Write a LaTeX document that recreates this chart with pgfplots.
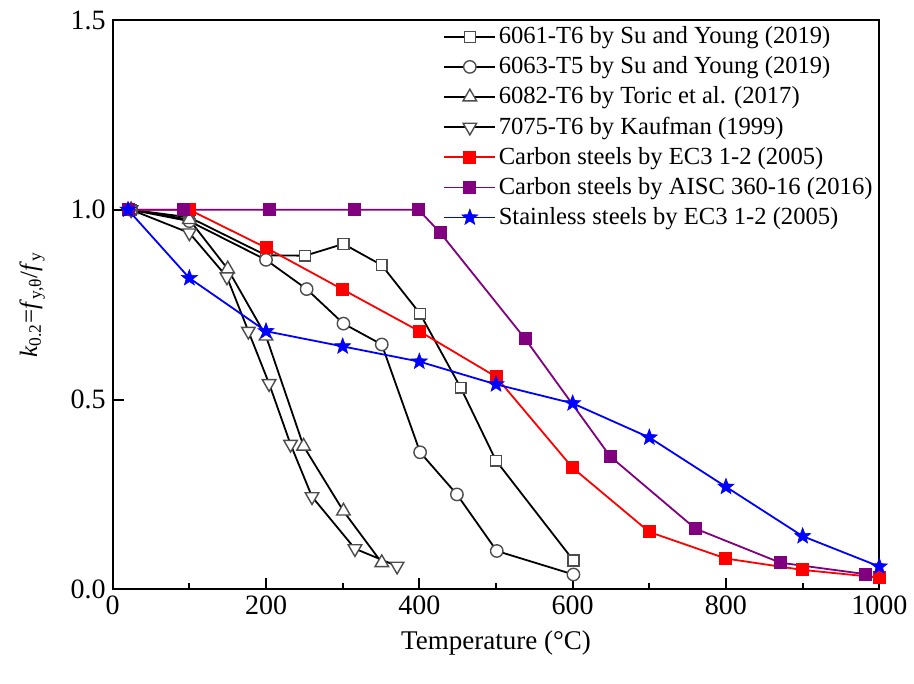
\documentclass[border=0pt]{standalone}
\usepackage{pgfplots}
\pgfplotsset{compat=1.18}
\usepackage{fontspec}
\setmainfont{Liberation Serif}
\definecolor{myred}{RGB}{255,0,0}
\definecolor{mypurple}{RGB}{128,0,128}
\definecolor{myblue}{RGB}{0,0,255}
\pgfdeclareplotmark{fstar}{%
  \pgfpathmoveto{\pgfpointpolar{90}{\pgfplotmarksize}}%
  \pgfpathlineto{\pgfpointpolar{126}{0.42\pgfplotmarksize}}%
  \pgfpathlineto{\pgfpointpolar{162}{\pgfplotmarksize}}%
  \pgfpathlineto{\pgfpointpolar{198}{0.42\pgfplotmarksize}}%
  \pgfpathlineto{\pgfpointpolar{234}{\pgfplotmarksize}}%
  \pgfpathlineto{\pgfpointpolar{270}{0.42\pgfplotmarksize}}%
  \pgfpathlineto{\pgfpointpolar{306}{\pgfplotmarksize}}%
  \pgfpathlineto{\pgfpointpolar{342}{0.42\pgfplotmarksize}}%
  \pgfpathlineto{\pgfpointpolar{18}{\pgfplotmarksize}}%
  \pgfpathlineto{\pgfpointpolar{54}{0.42\pgfplotmarksize}}%
  \pgfpathclose
  \pgfusepathqfillstroke}
\begin{document}
\begin{tikzpicture}
\begin{axis}[
  scale only axis,
  width=383.3pt, height=284.65pt,
  xmin=0, xmax=1000, ymin=0, ymax=1.5,
  xtick={0,200,...,1000},
  minor xtick={100,300,...,900},
  ytick={0,0.5,1.0,1.5},
  tick align=inside,
  xtick pos=bottom, ytick pos=left,
  major tick length=5.5pt, minor tick length=3pt,
  axis line style={line width=1pt},
  tick style={line width=1pt, black},
  every tick label/.style={font=\fontsize{14}{15}\selectfont},
  /pgf/number format/assume math mode=true,
  yticklabel style={/pgf/number format/.cd, fixed, fixed zerofill, precision=1},
  xticklabel style={/pgf/number format/.cd, fixed, 1000 sep={}},
  xlabel={Temperature (°C)},
  ylabel={\textit{k}\textsubscript{0.2}=\textit{f}\textsubscript{y,θ}/\textit{f}\textsubscript{y}},
  xlabel style={font=\fontsize{13.5}{15}\selectfont, yshift=-1pt},
  ylabel style={font=\fontsize{12.5}{14}\selectfont, yshift=6pt},
  legend style={draw=none, fill=none, at={(1,1)}, anchor=north east,
     font=\fontsize{12.3}{13}\selectfont, row sep=2.6pt, inner sep=2pt,
     nodes={inner sep=1.2pt}},
  legend cell align=left,
  legend image code/.code={
     \draw[mark repeat=2,mark phase=2] plot coordinates {(0cm,0cm) (0.45cm,0cm) (0.9cm,0cm)};},
  every axis plot/.append style={line width=0.9pt},
  clip=true,
]
% 6061-T6
\addplot[black, mark=square*, mark size=2.7pt, mark options={draw=black!70, fill=white, solid, line width=0.7pt}] coordinates {
 (24,1.0) (100,0.98) (200,0.88) (251,0.879) (301,0.91) (351,0.854) (401,0.726) (454,0.531) (500,0.339) (601,0.076)};
\addlegendentry{6061-T6 by Su and Young (2019)}
% 6063-T5
\addplot[black, mark=*, mark size=3.1pt, mark options={draw=black!70, fill=white, solid, line width=0.7pt}] coordinates {
 (24,1.0) (100,0.97) (200,0.868) (253,0.791) (301,0.70) (351,0.645) (401,0.361) (449,0.25) (501,0.101) (601,0.039)};
\addlegendentry{6063-T5 by Su and Young (2019)}
% 6082-T6
\addplot[black, mark=triangle*, mark size=3.9pt, mark options={draw=black!70, fill=white, solid, line width=0.7pt}] coordinates {
 (24,1.0) (100,0.974) (150,0.844) (200,0.667) (249,0.377) (301,0.206) (351,0.070)};
\addlegendentry{6082-T6 by Toric et al. (2017)}
% 7075-T6
\addplot[black, mark=triangle*, mark size=3.9pt, mark options={draw=black!70, fill=white, solid, line width=0.7pt, rotate=180}] coordinates {
 (24,1.0) (100,0.939) (149,0.823) (177,0.680) (204,0.542) (232,0.382) (260,0.244) (316,0.107) (371,0.061)};
\addlegendentry{7075-T6 by Kaufman (1999)}
% Carbon steels EC3
\addplot[myred, mark=square*, mark size=2.8pt, mark options={fill=myred, draw=myred, solid}] coordinates {
 (20,1.0) (100,1.0) (200,0.90) (300,0.79) (400,0.68) (500,0.56) (600,0.32) (700,0.151) (800,0.081) (900,0.051) (1000,0.031)};
\addlegendentry{Carbon steels by EC3 1-2 (2005)}
% Carbon steels AISC
\addplot[mypurple, mark=square*, mark size=2.8pt, mark options={fill=mypurple, draw=mypurple, solid}] coordinates {
 (20,1.0) (93,1.0) (204,1.0) (316,1.0) (399,1.0) (427,0.94) (538,0.66) (649,0.35) (760,0.16) (871,0.07) (982,0.04)};
\addlegendentry{Carbon steels by AISC 360-16 (2016)}
% Stainless EC3
\addplot[myblue, mark=fstar, mark size=4.2pt, mark options={fill=myblue, draw=myblue, solid, line width=0.3pt}] coordinates {
 (20,1.0) (100,0.82) (200,0.68) (300,0.64) (400,0.60) (500,0.54) (600,0.49) (700,0.40) (800,0.27) (900,0.14) (1000,0.06)};
\addlegendentry{Stainless steels by EC3 1-2 (2005)}
\end{axis}
\pgfresetboundingbox
\path[use as bounding box] (current axis.south west) ++(-56.35pt,-47.35pt) rectangle ++(457pt,342pt);
\end{tikzpicture}
\end{document}
